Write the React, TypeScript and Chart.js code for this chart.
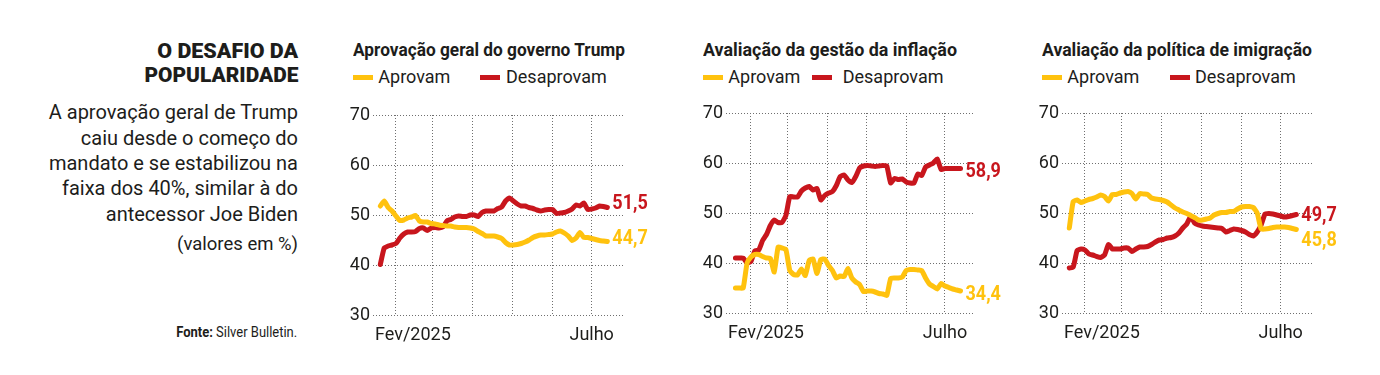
import React, { useEffect, useLayoutEffect, useRef } from 'react';
import { Chart, registerables } from 'chart.js';

Chart.register(...registerables);

// ---- dados ----
const dias = [19, 22, 25, 28, 31, 34, 37, 40, 43, 46, 49, 52, 55, 58, 61, 64, 67, 70, 73, 76, 79, 82, 85, 88, 91, 94, 97, 100, 103, 106, 109, 112, 115, 118, 121, 124, 127, 130, 133, 136, 139, 142, 145, 148, 151, 154, 157, 160, 163, 166, 169, 172, 175, 178, 181, 184, 187, 190, 193];
const inicioDosMeses = [31, 59, 90, 120, 151, 181];
const marcasY = [30, 40, 50, 60, 70];
const rotuloInicio = 'Fev/2025';
const rotuloFim = 'Julho';
const diaJulho = 181;
const nomesSeries = ['Aprovam', 'Desaprovam'];

const geralAprovam = [51.8, 52.8, 51.5, 50.8, 49.8, 48.9, 49.0, 49.4, 49.6, 49.9, 48.8, 48.6, 48.6, 48.3, 48.2, 48.0, 47.9, 47.8, 47.8, 47.6, 47.5, 47.5, 47.5, 47.4, 47.2, 46.7, 46.3, 45.8, 45.8, 45.8, 45.6, 45.3, 44.5, 44.0, 44.0, 44.1, 44.3, 44.6, 45.0, 45.5, 45.8, 46.0, 46.0, 46.1, 46.2, 46.6, 46.8, 46.4, 45.8, 44.9, 45.4, 46.5, 45.5, 45.5, 45.3, 45.1, 44.9, 44.8, 44.7];
const geralDesaprovam = [40.1, 43.4, 43.8, 44.0, 44.3, 45.4, 46.2, 46.6, 46.6, 46.7, 47.3, 47.4, 46.9, 47.4, 47.5, 47.4, 47.6, 48.8, 49.1, 49.6, 49.8, 49.7, 49.7, 50.0, 50.0, 49.7, 50.5, 50.8, 50.8, 50.8, 51.3, 51.6, 52.8, 53.4, 52.8, 52.2, 51.8, 51.8, 51.5, 51.3, 51.0, 50.8, 51.0, 51.1, 51.1, 50.3, 50.4, 50.5, 50.8, 51.2, 52.0, 51.8, 52.4, 51.1, 51.2, 51.4, 51.8, 51.7, 51.5];
const inflacaoAprovam = [35.0, 35.0, 35.0, 40.0, 41.2, 41.7, 41.7, 41.3, 41.0, 40.9, 38.2, 43.2, 43.0, 42.7, 38.5, 37.7, 37.6, 38.8, 37.5, 40.5, 40.8, 37.9, 40.7, 40.8, 39.5, 38.5, 37.0, 37.4, 37.3, 38.9, 37.0, 36.2, 35.7, 34.3, 34.4, 34.4, 34.2, 33.9, 33.8, 33.5, 36.9, 37.0, 37.0, 37.2, 38.5, 38.7, 38.7, 38.6, 38.5, 37.0, 35.8, 35.3, 34.8, 35.9, 35.4, 35.1, 34.8, 34.6, 34.4];
const inflacaoDesaprovam = [41.0, 41.0, 41.0, 40.0, 40.3, 42.4, 42.6, 44.5, 45.7, 47.5, 48.6, 48.1, 48.1, 49.5, 53.3, 53.2, 53.2, 54.4, 55.0, 55.3, 54.6, 54.9, 52.6, 53.5, 54.0, 54.3, 55.5, 57.3, 57.6, 56.6, 56.1, 57.3, 59.0, 59.4, 59.5, 59.4, 59.3, 59.4, 59.5, 59.4, 56.0, 56.9, 56.7, 56.8, 56.2, 56.0, 56.0, 57.8, 57.5, 59.2, 59.6, 60.0, 60.8, 58.7, 58.9, 58.9, 58.9, 58.9, 58.9];
const imigracaoAprovam = [47.0, 52.3, 52.6, 52.1, 52.4, 52.7, 52.9, 53.2, 53.6, 53.3, 52.4, 53.7, 53.7, 54.0, 54.2, 54.3, 53.9, 52.8, 53.9, 53.8, 53.7, 53.0, 52.8, 52.7, 52.5, 52.2, 51.6, 51.0, 50.6, 50.2, 49.9, 49.5, 49.1, 48.6, 48.6, 48.8, 49.0, 49.6, 49.9, 50.1, 50.1, 50.3, 50.3, 50.8, 51.2, 51.3, 51.3, 51.1, 50.0, 46.8, 46.8, 46.9, 47.1, 47.2, 47.2, 47.2, 47.1, 46.9, 46.7];
const imigracaoDesaprovam = [39.0, 39.2, 42.5, 42.8, 42.6, 41.8, 41.6, 41.3, 41.1, 41.6, 43.7, 42.8, 42.8, 42.8, 43.0, 43.0, 42.3, 42.8, 43.2, 43.2, 43.3, 43.7, 44.2, 44.6, 44.7, 45.0, 45.1, 45.4, 46.0, 47.0, 47.8, 49.3, 48.0, 47.6, 47.4, 47.3, 47.2, 47.1, 47.0, 46.9, 46.2, 46.5, 46.8, 46.7, 46.5, 46.2, 45.7, 45.4, 46.2, 47.6, 49.8, 49.9, 49.8, 49.6, 49.4, 49.2, 49.3, 49.5, 49.7];

const finaisGeral = ['44,7', '51,5'];
const finaisInflacao = ['34,4', '58,9'];
const finaisImigracao = ['45,8', '49,7'];

// ---- estilo ----
const AMARELO = '#FFC20E';
const VERMELHO = '#C8161D';
const TEXTO = '#1d1d1b';
const GRADE = '#6f6f6f';
const SANS = 'Roboto, "Noto Sans", sans-serif';

const PAD_L = 40, PAD_T = 20, PAD_R = 45, PAD_B = 40;

const pluginRotulos = {
  id: 'rotulosFinais',
  afterDatasetsDraw(chart: any, _args: any, opts: any) {
    const ctx = chart.ctx;
    ctx.save();
    ctx.font = `bold 20px ${SANS}`;
    ctx.textBaseline = 'middle';
    ctx.textAlign = 'left';
    chart.data.datasets.forEach((ds: any, i: number) => {
      const meta = chart.getDatasetMeta(i);
      const pt = meta.data[meta.data.length - 1];
      ctx.save();
      ctx.translate(pt.x + 5, pt.y + opts.dy[i]);
      ctx.scale(0.9, 1);
      ctx.fillStyle = ds.borderColor;
      ctx.fillText(opts.textos[i], 0, 0);
      ctx.restore();
    });
    ctx.font = `18px ${SANS}`;
    ctx.fillStyle = TEXTO;
    const y = chart.chartArea.bottom + 20;
    ctx.textAlign = 'left';
    ctx.fillText(rotuloInicio, chart.chartArea.left + 2, y);
    ctx.textAlign = 'center';
    ctx.fillText(rotuloFim, chart.scales.x.getPixelForValue(diaJulho), y);
    ctx.restore();
  },
};

type Area = { L: number; R: number; T: number; B: number };

function Grafico(props: { area: Area; xMin: number; xMax: number; aprovam: number[]; desaprovam: number[]; textos: string[]; dy: number[] }) {
  const ref = useRef<HTMLCanvasElement>(null);
  const { area } = props;
  const w = area.R - area.L + PAD_L + PAD_R;
  const h = area.B - area.T + PAD_T + PAD_B;
  useEffect(() => {
    const mk = (label: string, vals: number[], cor: string) => ({
      label,
      data: dias.map((d, i) => ({ x: d, y: vals[i] })),
      borderColor: cor,
      backgroundColor: cor,
      borderWidth: 5,
      pointRadius: 0,
      tension: 0.15,
      borderCapStyle: 'round',
      borderJoinStyle: 'round',
      fill: false,
    });
    const chart = new Chart(ref.current as HTMLCanvasElement, {
      type: 'line',
      data: {
        datasets: [mk(nomesSeries[0], props.aprovam, AMARELO), mk(nomesSeries[1], props.desaprovam, VERMELHO)] as any,
      },
      options: {
        responsive: false,
        animation: false,
        events: [],
        layout: { padding: { left: 0, right: PAD_R, top: PAD_T, bottom: PAD_B } },
        plugins: {
          legend: { display: false },
          tooltip: { enabled: false },
          rotulosFinais: { textos: props.textos, dy: props.dy },
        } as any,
        scales: {
          x: {
            type: 'linear',
            min: props.xMin,
            max: props.xMax,
            afterBuildTicks: (s: any) => { s.ticks = inicioDosMeses.map((v) => ({ value: v })); },
            afterFit: (s: any) => { s.height = 0; },
            ticks: { display: false },
            grid: { color: GRADE, lineWidth: 1, drawTicks: false },
            border: { display: false, dash: [1, 2] },
          },
          y: {
            min: 30,
            max: 70,
            afterBuildTicks: (s: any) => { s.ticks = marcasY.map((v) => ({ value: v })); },
            afterFit: (s: any) => { s.width = PAD_L; },
            ticks: { font: { family: SANS, size: 18 }, color: TEXTO, padding: 3 },
            grid: { color: GRADE, lineWidth: 1, drawTicks: false },
            border: { display: false, dash: [1, 2] },
          },
        },
      } as any,
      plugins: [pluginRotulos],
    });
    return () => chart.destroy();
  }, []);
  return (
    <canvas
      ref={ref}
      width={w}
      height={h}
      style={{ position: 'absolute', left: area.L - PAD_L, top: area.T - PAD_T, width: w, height: h }}
    />
  );
}

function Txt(props: { x: number; base: number; size: number; weight?: number; align?: 'left' | 'right'; color?: string; fit?: number; children: React.ReactNode }) {
  const { x, base, size, weight = 400, align = 'left', color = TEXTO, fit } = props;
  const ref = useRef<HTMLDivElement>(null);
  useLayoutEffect(() => {
    if (!fit || !ref.current) return;
    const el = ref.current;
    el.style.transform = 'none';
    const w = el.getBoundingClientRect().width;
    if (w > 0) el.style.transform = `scaleX(${fit / w})`;
  }, [fit]);
  const top = base - 0.845 * size;
  const st: React.CSSProperties = {
    position: 'absolute',
    top,
    fontFamily: SANS,
    fontSize: size,
    fontWeight: weight,
    lineHeight: `${size}px`,
    whiteSpace: 'nowrap',
    color,
    transformOrigin: align === 'right' ? 'right center' : 'left center',
  };
  if (align === 'right') st.right = 1380 - x;
  else st.left = x;
  return <div ref={ref} style={st}>{props.children}</div>;
}

function Legenda(props: { x: number; xTexto1: number; x2: number; xTexto2: number }) {
  const sw = (x: number, cor: string) => (
    <div style={{ position: 'absolute', left: x, top: 75, width: 20, height: 5, background: cor }} />
  );
  return (
    <>
      {sw(props.x, AMARELO)}
      <Txt x={props.xTexto1} base={83.5} size={18}>{nomesSeries[0]}</Txt>
      {sw(props.x2, VERMELHO)}
      <Txt x={props.xTexto2} base={83.5} size={18}>{nomesSeries[1]}</Txt>
    </>
  );
}

export default function App() {
  const corpo = [
    'A aprovação geral de Trump',
    'caiu desde o começo do',
    'mandato e se estabilizou na',
    'faixa dos 40%, similar à do',
    'antecessor Joe Biden',
  ];
  const bases = [119.3, 144.6, 169.9, 195.2, 220.5];
  return (
    <div style={{ position: 'absolute', left: 0, top: 0, width: 1380, height: 375, background: '#fff', overflow: 'hidden' }}>
      <Txt x={298} base={58.3} size={20} weight={900} align="right" fit={141}>O DESAFIO DA</Txt>
      <Txt x={298} base={81.7} size={20} weight={900} align="right" fit={154}>POPULARIDADE</Txt>
      {corpo.map((l, i) => (
        <Txt key={i} x={298} base={bases[i]} size={20} align="right">{l}</Txt>
      ))}
      <Txt x={298} base={250.5} size={18.5} align="right">(valores em %)</Txt>
      <Txt x={297.5} base={338} size={14.5} align="right" fit={121}>
        <b>Fonte:</b> Silver Bulletin.
      </Txt>

      <Txt x={352.7} base={57} size={17.5} weight={700} fit={272}>Aprovação geral do governo Trump</Txt>
      <Legenda x={352.7} xTexto1={378.3} x2={480} xTexto2={506} />
      <Grafico area={{ L: 373, R: 623, T: 115, B: 315 }} xMin={13.4} xMax={205} aprovam={geralAprovam} desaprovam={geralDesaprovam} textos={finaisGeral} dy={[-3, -4]} />

      <Txt x={702.7} base={57} size={17.5} weight={700} fit={254}>Avaliação da gestão da inflação</Txt>
      <Legenda x={702.7} xTexto1={728.3} x2={811.7} xTexto2={842.7} />
      <Grafico area={{ L: 726, R: 975, T: 113, B: 313 }} xMin={11.7} xMax={204.2} aprovam={inflacaoAprovam} desaprovam={inflacaoDesaprovam} textos={finaisInflacao} dy={[4, 3]} />

      <Txt x={1042} base={57} size={17.5} weight={700} fit={270}>Avaliação da política de imigração</Txt>
      <Legenda x={1041.7} xTexto1={1067.3} x2={1170} xTexto2={1195} />
      <Grafico area={{ L: 1062, R: 1312, T: 113, B: 313 }} xMin={13.4} xMax={205} aprovam={imigracaoAprovam} desaprovam={imigracaoDesaprovam} textos={finaisImigracao} dy={[11, 1.5]} />
    </div>
  );
}
